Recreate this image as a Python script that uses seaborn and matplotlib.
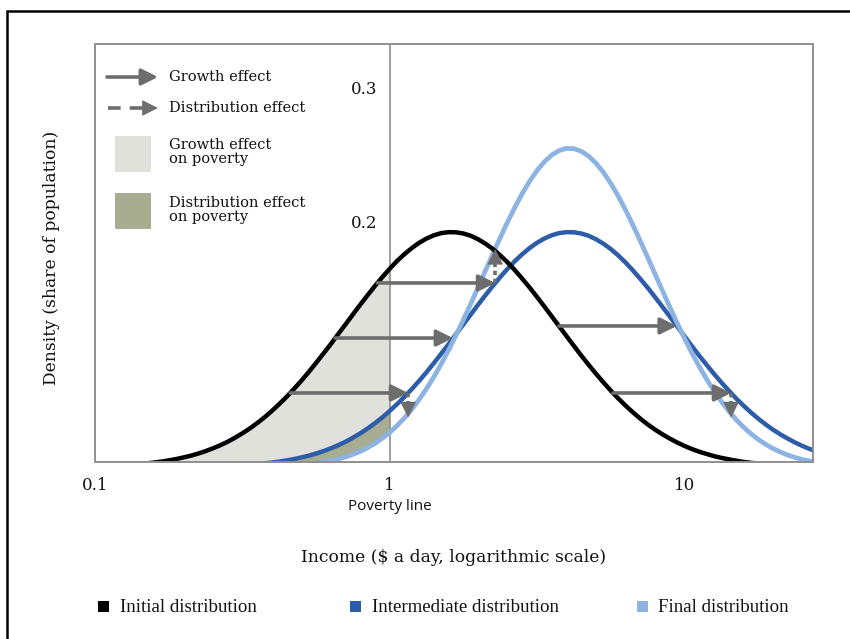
import numpy as np
import pandas as pd
import seaborn as sns
import matplotlib.pyplot as plt
from matplotlib.patches import Rectangle
from matplotlib.lines import Line2D
from matplotlib.ticker import NullLocator, FixedLocator, FixedFormatter

# ---------------- data ----------------
income = [0.1, 0.1059, 0.1122, 0.1189, 0.1259, 0.1334, 0.1413, 0.1496, 0.1585, 0.1679,
          0.1778, 0.1884, 0.1995, 0.2113, 0.2239, 0.2371, 0.2512, 0.2661, 0.2818, 0.2985,
          0.3162, 0.3350, 0.3548, 0.3758, 0.3981, 0.4217, 0.4467, 0.4732, 0.5012, 0.5309,
          0.5623, 0.5957, 0.6310, 0.6683, 0.7079, 0.7499, 0.7943, 0.8414, 0.8913, 0.9441,
          1.0, 1.059, 1.122, 1.189, 1.259, 1.334, 1.413, 1.496, 1.585, 1.679,
          1.778, 1.884, 1.995, 2.113, 2.239, 2.371, 2.512, 2.661, 2.818, 2.985,
          3.162, 3.350, 3.548, 3.758, 3.981, 4.217, 4.467, 4.732, 5.012, 5.309,
          5.623, 5.957, 6.310, 6.683, 7.079, 7.499, 7.943, 8.414, 8.913, 9.441,
          10.0, 10.59, 11.22, 11.89, 12.59, 13.34, 14.13, 14.96, 15.85, 16.79,
          17.78, 18.84, 19.95, 21.13, 22.39, 23.71, 25.12, 26.61, 28.18]
initial = [0.0176, 0.0178, 0.0180, 0.0182, 0.0185, 0.0189, 0.0193, 0.0199, 0.0205, 0.0212,
           0.0221, 0.0231, 0.0243, 0.0256, 0.0272, 0.0290, 0.0311, 0.0334, 0.0360, 0.0390,
           0.0423, 0.0459, 0.0499, 0.0542, 0.0590, 0.0641, 0.0695, 0.0754, 0.0815, 0.0880,
           0.0948, 0.1018, 0.1089, 0.1163, 0.1236, 0.1310, 0.1383, 0.1454, 0.1523, 0.1589,
           0.1651, 0.1709, 0.1760, 0.1806, 0.1845, 0.1877, 0.1901, 0.1917, 0.1924, 0.1923,
           0.1914, 0.1897, 0.1871, 0.1838, 0.1798, 0.1751, 0.1698, 0.1639, 0.1576, 0.1510,
           0.1440, 0.1368, 0.1295, 0.1221, 0.1148, 0.1075, 0.1003, 0.0934, 0.0867, 0.0803,
           0.0742, 0.0684, 0.0630, 0.0580, 0.0533, 0.0490, 0.0451, 0.0416, 0.0384, 0.0355,
           0.0329, 0.0306, 0.0286, 0.0269, 0.0253, 0.0240, 0.0229, 0.0219, 0.0210, 0.0203,
           0.0197, 0.0192, 0.0188, 0.0185, 0.0182, 0.0179, 0.0178, 0.0176, 0.0175]
intermediate = [0.0170, 0.0170, 0.0170, 0.0170, 0.0170, 0.0170, 0.0170, 0.0171, 0.0171, 0.0171,
                0.0171, 0.0172, 0.0172, 0.0173, 0.0174, 0.0175, 0.0176, 0.0178, 0.0180, 0.0182,
                0.0185, 0.0189, 0.0193, 0.0199, 0.0205, 0.0212, 0.0221, 0.0231, 0.0243, 0.0256,
                0.0272, 0.0290, 0.0311, 0.0334, 0.0360, 0.0390, 0.0423, 0.0459, 0.0499, 0.0542,
                0.0590, 0.0641, 0.0695, 0.0754, 0.0815, 0.0880, 0.0948, 0.1018, 0.1089, 0.1163,
                0.1236, 0.1310, 0.1383, 0.1454, 0.1523, 0.1589, 0.1651, 0.1709, 0.1760, 0.1806,
                0.1845, 0.1877, 0.1901, 0.1917, 0.1924, 0.1923, 0.1914, 0.1897, 0.1871, 0.1838,
                0.1798, 0.1751, 0.1698, 0.1639, 0.1576, 0.1510, 0.1440, 0.1368, 0.1295, 0.1221,
                0.1148, 0.1075, 0.1003, 0.0934, 0.0867, 0.0803, 0.0742, 0.0684, 0.0630, 0.0580,
                0.0533, 0.0490, 0.0451, 0.0416, 0.0384, 0.0355, 0.0329, 0.0306, 0.0286]
final = [0.0170, 0.0170, 0.0170, 0.0170, 0.0170, 0.0170, 0.0170, 0.0170, 0.0170, 0.0170,
         0.0170, 0.0170, 0.0170, 0.0170, 0.0170, 0.0170, 0.0170, 0.0171, 0.0171, 0.0171,
         0.0172, 0.0172, 0.0173, 0.0174, 0.0175, 0.0177, 0.0180, 0.0183, 0.0187, 0.0193,
         0.0199, 0.0208, 0.0218, 0.0231, 0.0246, 0.0266, 0.0288, 0.0316, 0.0348, 0.0386,
         0.0430, 0.0480, 0.0538, 0.0603, 0.0676, 0.0757, 0.0845, 0.0942, 0.1045, 0.1155,
         0.1270, 0.1390, 0.1513, 0.1638, 0.1762, 0.1883, 0.2001, 0.2111, 0.2214, 0.2305,
         0.2385, 0.2450, 0.2500, 0.2533, 0.2549, 0.2547, 0.2527, 0.2491, 0.2438, 0.2370,
         0.2288, 0.2194, 0.2090, 0.1977, 0.1859, 0.1737, 0.1613, 0.1489, 0.1366, 0.1247,
         0.1133, 0.1024, 0.0922, 0.0827, 0.0740, 0.0661, 0.0590, 0.0526, 0.0470, 0.0421,
         0.0378, 0.0341, 0.0310, 0.0284, 0.0261, 0.0243, 0.0228, 0.0216, 0.0206]

growth_arrow_y = [0.1545, 0.1134, 0.0724, 0.1224, 0.0724]
growth_arrow_from = [0.908, 0.653, 0.46, 3.75, 5.72]
growth_arrow_to = [2.28, 1.64, 1.155, 9.42, 14.4]
dist_arrow_x = [2.28, 1.155, 14.4]
dist_arrow_from = [0.1545, 0.0724, 0.0724]
dist_arrow_to = [0.180, 0.054, 0.054]

poverty_line = 1.0
x_ticks = [0.1, 1, 10]
x_tick_labels = ["0.1", "1", "10"]
y_ticks = [0.2, 0.3]
y_tick_labels = ["0.2", "0.3"]
series_labels = ["Initial distribution", "Intermediate distribution", "Final distribution"]

# ---------------- style ----------------
sns.set_style("white")
plt.rcParams['font.family'] = ['DejaVu Serif']

C_BLACK = "#000000"
C_DARK = "#2d5ca8"
C_LIGHT = "#8db3e2"
C_GREY_FILL = "#e0e1da"
C_OLIVE = "#a8ac91"
C_ARROW = "#6d6d6d"
C_FRAME = "#8f8f8f"
C_TEXT = "#111111"

W, H = 850, 639
fig = plt.figure(figsize=(8.5, 6.39), dpi=100)
ax = fig.add_axes([95 / W, 1 - 462 / H, (813 - 95) / W, (462 - 44) / H])

df = pd.DataFrame({"income": income, "initial": initial,
                   "intermediate": intermediate, "final": final})

inc = np.array(income)
mask = inc <= poverty_line
ax.fill_between(inc, df["intermediate"], df["initial"], where=mask,
                color=C_GREY_FILL, lw=0, zorder=1)
ax.fill_between(inc, df["final"], df["intermediate"], where=mask,
                color=C_OLIVE, lw=0, zorder=1)

sns.lineplot(data=df, x="income", y="intermediate", ax=ax, color=C_DARK, lw=3.2, zorder=3)
sns.lineplot(data=df, x="income", y="final", ax=ax, color=C_LIGHT, lw=3.4, zorder=3)
sns.lineplot(data=df, x="income", y="initial", ax=ax, color=C_BLACK, lw=3.2, zorder=3)

ax.set_xscale("log")
ax.set_xlim(0.1, 27.3)
ax.set_ylim(0.0209, 0.3328)
ax.set_xlabel("")
ax.set_ylabel("")

# growth-effect arrows
head = "-|>,head_length=0.7,head_width=0.35"
for y, x0, x1 in zip(growth_arrow_y, growth_arrow_from, growth_arrow_to):
    ax.annotate("", xy=(x1, y), xytext=(x0, y),
                arrowprops=dict(arrowstyle=head, mutation_scale=14, lw=2.6,
                                color=C_ARROW, shrinkA=0, shrinkB=0), zorder=5)

# distribution-effect arrows (dashed)
for x, y0, y1 in zip(dist_arrow_x, dist_arrow_from, dist_arrow_to):
    sign = 1 if y1 > y0 else -1
    ymid = y1 - sign * 0.008
    ax.plot([x, x], [y0, ymid], color=C_ARROW, lw=2.6, ls=(0, (1.2, 1.0)),
            solid_capstyle="butt", dash_capstyle="butt", zorder=5)
    ax.annotate("", xy=(x, y1), xytext=(0, -sign * 11), textcoords="offset points",
                arrowprops=dict(arrowstyle=head, mutation_scale=14, lw=1,
                                color=C_ARROW, shrinkA=0, shrinkB=0), zorder=5)

# axes: y axis at the poverty line, box frame around
for s in ["top", "right", "bottom"]:
    ax.spines[s].set_visible(False)
ax.spines["left"].set_position(("data", poverty_line))
ax.spines["left"].set_color(C_FRAME)
ax.spines["left"].set_linewidth(1.2)
ax.add_patch(Rectangle((0, 0), 1, 1, transform=ax.transAxes, fill=False,
                       ec=C_FRAME, lw=1.4, zorder=6, clip_on=False))

ax.xaxis.set_major_locator(FixedLocator(x_ticks))
ax.xaxis.set_major_formatter(FixedFormatter(x_tick_labels))
ax.xaxis.set_minor_locator(NullLocator())
ax.tick_params(axis="x", length=0, pad=11, labelsize=12, labelcolor=C_TEXT)
ax.set_yticks(y_ticks)
ax.set_yticklabels(y_tick_labels)
ax.tick_params(axis="y", direction="inout", length=14, width=1, color=C_FRAME,
               pad=2, labelsize=12, labelcolor=C_TEXT)

ax.text(poverty_line, -(507 - 462) / 418, "Poverty line", transform=ax.get_xaxis_transform(),
        ha="center", va="center", fontsize=11, family=["Open Sans", "DejaVu Sans"],
        color=C_TEXT)

# axis titles
fig.text(454 / W, 1 - 557 / H, "Income ($ a day, logarithmic scale)", ha="center",
         va="center", fontsize=12.3, color=C_TEXT)
fig.text(52 / W, 1 - 258 / H, "Density (share of population)", ha="center",
         va="center", rotation=90, fontsize=12.3, color=C_TEXT)

# in-plot legend (top left)
def fx(px):
    return px / W

def fy(py):
    return 1 - py / H

ax.annotate("", xy=(fx(158), fy(77)), xytext=(fx(107), fy(77)), xycoords="figure fraction",
            arrowprops=dict(arrowstyle=head, mutation_scale=14, lw=2.6, color=C_ARROW,
                            shrinkA=0, shrinkB=0))
fig.add_artist(Line2D([fx(108), fx(147)], [fy(108), fy(108)], color=C_ARROW, lw=2.6,
                      ls=(0, (3.5, 2.5)), dash_capstyle="butt"))
ax.annotate("", xy=(fx(158), fy(108)), xytext=(fx(145), fy(108)), xycoords="figure fraction",
            arrowprops=dict(arrowstyle=head, mutation_scale=14, lw=1, color=C_ARROW,
                            shrinkA=0, shrinkB=0))
fig.patches.append(Rectangle((fx(115), fy(172)), 36 / W, 36 / H, transform=fig.transFigure,
                             color=C_GREY_FILL, lw=0))
fig.patches.append(Rectangle((fx(115), fy(229)), 36 / W, 36 / H, transform=fig.transFigure,
                             color=C_OLIVE, lw=0))
leg_fs = 10.5
fig.text(fx(169), fy(77), "Growth effect", va="center", fontsize=leg_fs, color=C_TEXT)
fig.text(fx(169), fy(108), "Distribution effect", va="center", fontsize=leg_fs, color=C_TEXT)
fig.text(fx(169), fy(152), "Growth effect\non poverty", va="center", fontsize=leg_fs,
         color=C_TEXT, linespacing=1.0)
fig.text(fx(169), fy(210), "Distribution effect\non poverty", va="center", fontsize=leg_fs,
         color=C_TEXT, linespacing=1.0)

# bottom legend
for lab, col, mx, tx in zip(series_labels, [C_BLACK, C_DARK, C_LIGHT],
                            [98, 350, 637], [120, 372, 658]):
    fig.patches.append(Rectangle((fx(mx), fy(612)), 11 / W, 11 / H,
                                 transform=fig.transFigure, color=col, lw=0))
    fig.text(fx(tx), fy(607), lab, va="center", fontsize=13.6,
             family=["Liberation Serif", "DejaVu Serif"], color=C_TEXT)

# outer frame
fig.patches.append(Rectangle((7 / W, -0.2), 2.0, 1.2 - 11 / H, transform=fig.transFigure,
                             fill=False, ec="black", lw=1.8))

fig.savefig("out.png", dpi=100)
